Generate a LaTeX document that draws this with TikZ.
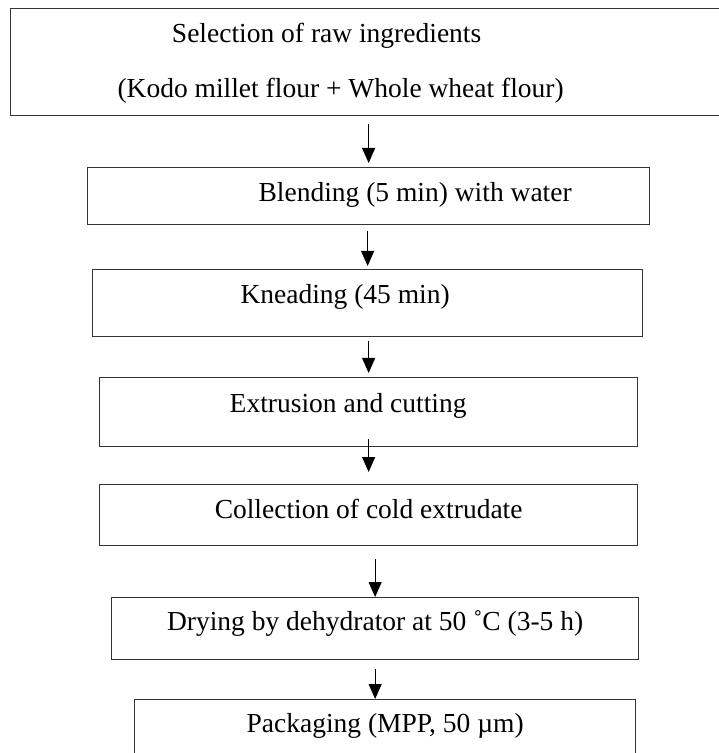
\documentclass[tikz,border=0pt]{standalone}
\usepackage{fontspec}
\setmainfont{Liberation Serif}
\usepackage{tikz}
\usetikzlibrary{positioning}
\usetikzlibrary{shapes,arrows.meta}
\tikzstyle{stepbox} = [rectangle, draw=black!80, line width=0.5pt, inner sep=0pt]
\tikzstyle{txt} = [inner sep=0pt, text centered]
\tikzstyle{arrow} = [thin,->,>={Triangle[length=6pt,width=5.2pt]}]

\begin{document}
\begin{tikzpicture}
\fontsize{11pt}{13pt}\selectfont
\useasboundingbox (0,0) rectangle (287.2pt,-301.2pt);

\node (sel) [stepbox, anchor=north west, minimum width=288pt, minimum height=42.8pt] at (4pt,-3.2pt) {};
\node (blend) [stepbox, below=20.3pt of sel, xshift=-0.8pt, minimum width=224.8pt, minimum height=22.8pt] {};
\node (knead) [stepbox, below=17.5pt of blend, xshift=-0.4pt, minimum width=220pt, minimum height=26.8pt] {};
\node (extr) [stepbox, below=15.9pt of knead, xshift=0.4pt, minimum width=215.2pt, minimum height=27.6pt] {};
\node (coll) [stepbox, below=14.7pt of extr, minimum width=215.2pt, minimum height=24.4pt] {};
\node (dry) [stepbox, below=20.3pt of coll, xshift=2.6pt, minimum width=210.8pt, minimum height=24.8pt] {};
\node (pack) [stepbox, below=15.5pt of dry, xshift=4pt, minimum width=200.4pt, minimum height=26.4pt] {};

\node (selname) [txt, xshift=-17.6pt, yshift=10.4pt] at (sel) {Selection of raw ingredients};
\node (selmix) [txt, xshift=-12pt, yshift=-11.4pt] at (sel) {(Kodo millet flour + Whole wheat flour)};
\node (blendtxt) [txt, xshift=18.6pt, yshift=0.6pt] at (blend) {Blending (5 min) with water};
\node (kneadtxt) [txt, xshift=-9pt, yshift=2.4pt] at (knead) {Kneading (45 min)};
\node (extrtxt) [txt, xshift=-8.2pt, yshift=2.4pt] at (extr) {Extrusion and cutting};
\node (colltxt) [txt, yshift=2.6pt] at (coll) {Collection of cold extrudate};
\node (drytxt) [txt, yshift=1.9pt] at (dry) {Drying by dehydrator at 50 ˚C (3-5 h)};
\node (packtxt) [txt, yshift=2.5pt] at (pack) {Packaging (MPP, 50 µm)};

\draw [arrow, shorten <=3.2pt, shorten >=1.6pt] (sel.south -| blend) -- (blend);
\draw [arrow, shorten <=2.4pt, shorten >=1.2pt] (blend.south -| knead) -- (knead);
\draw [arrow, shorten <=1.6pt, shorten >=1.6pt] (knead.south -| extr) -- (extr);
\draw [arrow, shorten <=-3.2pt, shorten >=4.8pt] (extr.south -| coll) -- (coll);
\draw [arrow, shorten <=5.2pt] (coll.south -| dry) -- (dry);
\draw [arrow, shorten <=3.6pt] (dry) -- (dry |- pack.north);

\end{tikzpicture}
\end{document}
